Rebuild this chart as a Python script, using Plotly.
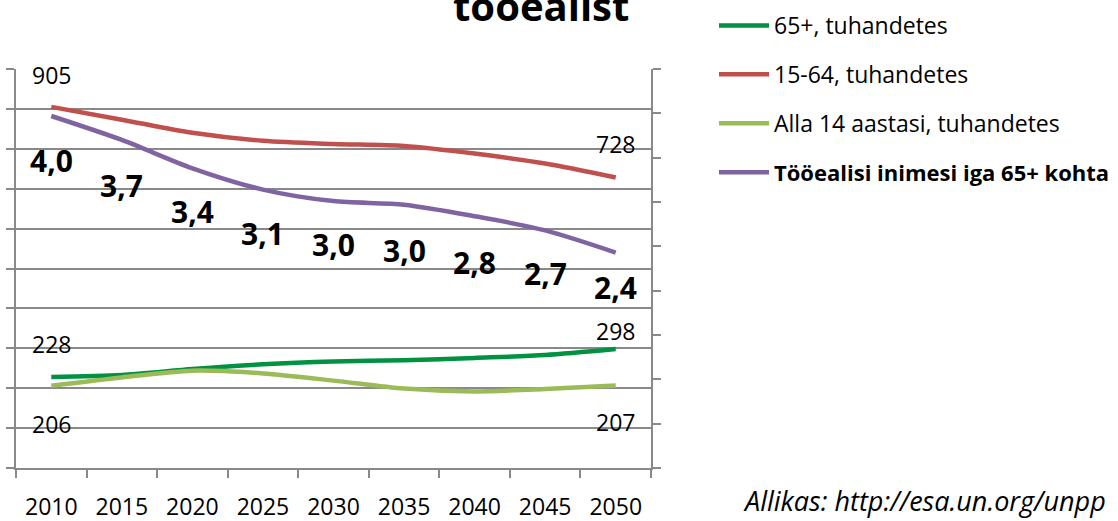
import plotly.graph_objects as go

years = ["2010", "2015", "2020", "2025", "2030", "2035", "2040", "2045", "2050"]
age65 = [228, 233, 248, 260, 267, 270, 276, 283, 298]
age15_64 = [905, 873, 840, 820, 812, 807, 788, 763, 728]
under14 = [206, 227, 244, 237, 219, 199, 192, 198, 207]
ratio = [3.97, 3.70, 3.38, 3.14, 3.01, 2.97, 2.84, 2.68, 2.43]

names = ["65+, tuhandetes", "15-64, tuhandetes", "Alla 14 aastasi, tuhandetes",
         "<b><span style='font-size:22px'>Tööealisi inimesi iga 65+ kohta</span></b>"]
colors = ["#009241", "#C0504D", "#9BBB59", "#8064A2"]

FONT = "Open Sans"
W, H = 1118, 521
L, R, T, B = 16, 1118 - 651, 69, 521 - 468
PW, PH = W - L - R, H - T - B

fig = go.Figure()
series = [age65, age15_64, under14]
for i, s in enumerate(series):
    fig.add_trace(go.Scatter(x=years, y=s, name=names[i], mode="lines",
                             line=dict(color=colors[i], width=4.5, shape="spline", smoothing=0.8),
                             legendgroup=str(i)))
fig.add_trace(go.Scatter(x=years, y=ratio, name=names[3], mode="lines", yaxis="y2",
                         line=dict(color=colors[3], width=4.5, shape="spline", smoothing=0.8),
                         legendgroup="3"))

ann = []
small = dict(family=FONT, size=23, color="#000000")
last = len(years) - 1
# end labels for population series: (series, shift first, shift last)
for s, sh0, sh1 in [(age15_64, 32, 34), (age65, 33, 18), (under14, -38, -37)]:
    ann.append(dict(x=0, y=s[0], xref="x", yref="y", text=str(s[0]), showarrow=False,
                    yshift=sh0, font=small))
    ann.append(dict(x=last, y=s[-1], xref="x", yref="y", text=str(s[-1]), showarrow=False,
                    yshift=sh1, font=small))
ratio_shift = [-45, -46, -43, -44, -43, -46, -46, -43, -35]
for i, (v, sh) in enumerate(zip(ratio, ratio_shift)):
    ann.append(dict(x=i, y=v, xref="x", yref="y2", text="<b>" + f"{v:.1f}".replace(".", ",") + "</b>",
                    showarrow=False, yshift=sh, font=dict(family=FONT, size=30, color="#000000")))

def px2py(py):
    return (468 - py) / PH

def px2px(px):
    return (px - L) / PW

ann.append(dict(xref="paper", yref="paper", x=px2px(541), y=px2py(35), xanchor="center", yanchor="bottom",
                text="<b>tööealist</b>", showarrow=False, font=dict(family=FONT, size=40, color="#000000")))
ann.append(dict(xref="paper", yref="paper", x=px2px(1108), y=px2py(500), xanchor="right", yanchor="middle",
                text="<i>Allikas: http://esa.un.org/unpp</i>", showarrow=False,
                font=dict(family=FONT, size=27, color="#000000")))

grid = "#898989"
fig.update_layout(
    width=W, height=H,
    margin=dict(l=L, r=R, t=T, b=B, pad=0, autoexpand=False),
    paper_bgcolor="white", plot_bgcolor="white",
    font=dict(family=FONT, size=23, color="#000000"),
    showlegend=True,
    legend=dict(x=px2px(714), y=px2py(4), xanchor="left", yanchor="top",
                font=dict(family=FONT, size=23, color="#000000"),
                tracegroupgap=16, bgcolor="rgba(0,0,0,0)", itemwidth=50),
    xaxis=dict(type="category", range=[-0.5, 8.5], showgrid=False, showline=True, linecolor=grid,
               linewidth=1.5, ticks="outside", ticklen=8, tickcolor=grid, tickwidth=1.5,
               tickson="boundaries", tickfont=dict(family=FONT, size=23), zeroline=False,
               ticklabelstandoff=18),
    yaxis=dict(range=[0, 1000], dtick=100, showgrid=True, gridcolor=grid, gridwidth=1.5,
               showline=True, linecolor=grid, linewidth=1.5, ticks="outside", ticklen=8,
               tickcolor=grid, tickwidth=1.5, showticklabels=False, zeroline=False),
    yaxis2=dict(range=[0, 4.5], dtick=0.5, overlaying="y", side="right", showgrid=False,
                showline=True, linecolor=grid, linewidth=1.5, ticks="outside", ticklen=8,
                tickcolor=grid, tickwidth=1.5, showticklabels=False, zeroline=False),
    annotations=ann,
)

fig.write_html("out.html", config={"displayModeBar": False},
               post_script="document.body.style.margin='0';")
